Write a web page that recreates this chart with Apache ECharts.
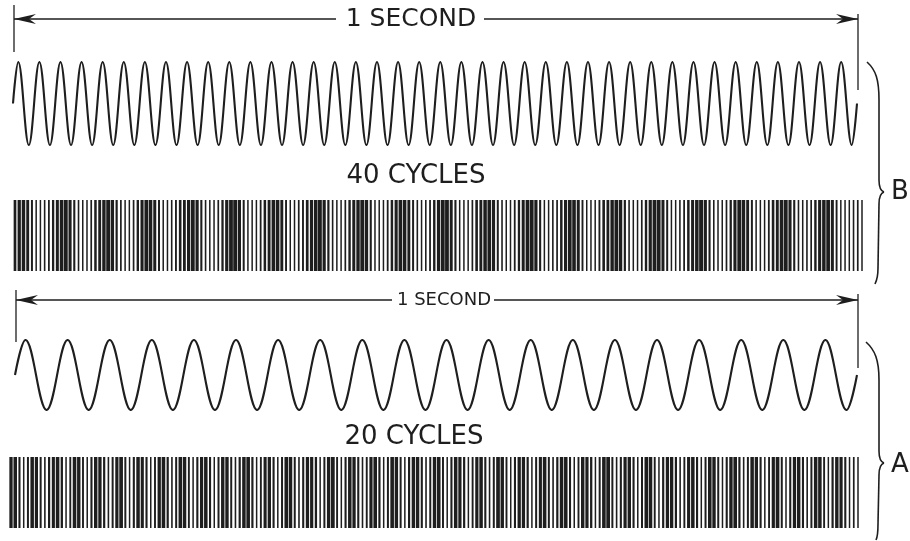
<!DOCTYPE html>
<html><head><meta charset="utf-8">
<script src="https://cdn.jsdelivr.net/npm/echarts@6/dist/echarts.min.js"></script>
<style>html,body{margin:0;padding:0;background:#fff}#c{width:910px;height:541px}</style>
</head><body><div id="c"></div>
<script>
// ---- data ----
const spanLabel = '1 SECOND';
const cycleLabels = ['40 CYCLES', '20 CYCLES'];
const groupLabels = ['B', 'A'];
// each trace over 1 second: start level, then every crest (+1) and trough (-1), then end level
const wave40 = [0,
1,-1,1,-1,1,-1,1,-1,1,-1,1,-1,1,-1,1,-1,1,-1,1,-1,
1,-1,1,-1,1,-1,1,-1,1,-1,1,-1,1,-1,1,-1,1,-1,1,-1,
1,-1,1,-1,1,-1,1,-1,1,-1,1,-1,1,-1,1,-1,1,-1,1,-1,
1,-1,1,-1,1,-1,1,-1,1,-1,1,-1,1,-1,1,-1,1,-1,1,-1,
0];
const wave20 = [0,
1,-1,1,-1,1,-1,1,-1,1,-1,1,-1,1,-1,1,-1,1,-1,1,-1,
1,-1,1,-1,1,-1,1,-1,1,-1,1,-1,1,-1,1,-1,1,-1,1,-1,
0];
// stroke widths (px) of the successive lines of each striped track
const barsB = [
2.2,2.8,3.0,2.4,1.5,1.0,1.0,1.1,1.3,1.8,
2.5,3.1,3.3,2.6,1.6,1.1,1.0,1.0,1.2,2.0,
2.4,2.9,3.4,2.8,1.7,1.2,1.0,1.0,1.2,1.9,
2.6,3.2,3.1,2.5,1.5,1.0,1.0,1.1,1.4,2.1,
2.3,2.8,3.2,2.7,1.6,1.1,1.0,1.0,1.2,1.8,
2.7,3.3,3.5,2.6,1.5,1.0,1.0,1.0,1.3,2.0,
2.4,3.0,3.1,2.4,1.4,1.0,1.0,1.2,1.4,2.2,
2.6,3.2,3.3,2.7,1.7,1.1,1.0,1.0,1.2,1.9,
2.5,2.9,3.4,2.8,1.6,1.0,1.0,1.0,1.3,2.0,
2.6,3.1,3.0,2.4,1.5,1.1,1.0,1.1,1.3,1.9,
2.7,3.4,3.3,2.5,1.6,1.0,1.0,1.0,1.2,2.1,
2.4,3.0,3.2,2.6,1.5,1.1,1.0,1.0,1.3,1.8,
2.5,3.1,3.4,2.7,1.6,1.0,1.0,1.1,1.2,2.0,
2.6,3.2,3.1,2.5,1.4,1.0,1.0,1.0,1.4,2.1,
2.3,2.9,3.3,2.8,1.7,1.1,1.0,1.0,1.2,1.9,
2.7,3.3,3.2,2.5,1.5,1.0,1.0,1.1,1.3,2.0,
2.5,3.0,3.4,2.7,1.6,1.1,1.0,1.0,1.2,1.8,
2.6,3.2,3.1,2.4,1.5,1.0,1.0,1.0,1.3,2.1,
2.4,3.1,3.3,2.6,1.6,1.1,1.0,1.1,1.2,1.9,
2.6,3.0,3.2,2.5,1.4,1.0,1.0,1.0,1.1,1.2,
1.0];
const barsA = [
2.8,3.0,1.6,1.0,1.5, 3.0,2.7,1.5,1.1,1.7, 2.6,3.1,1.8,1.0,1.4, 3.1,2.9,1.4,1.0,1.6,
2.9,2.8,1.7,1.1,1.5, 2.7,3.2,1.5,1.0,1.6, 3.0,2.6,1.6,1.0,1.4, 2.8,3.1,1.7,1.1,1.5,
3.2,2.8,1.4,1.0,1.6, 2.7,3.0,1.6,1.0,1.5, 2.9,2.9,1.5,1.1,1.7, 3.0,3.1,1.7,1.0,1.4,
2.6,2.8,1.6,1.0,1.5, 3.1,3.0,1.5,1.1,1.6, 2.8,2.7,1.8,1.0,1.5, 2.9,3.2,1.4,1.0,1.6,
3.0,2.8,1.6,1.1,1.4, 2.7,3.1,1.7,1.0,1.5, 3.1,2.9,1.5,1.0,1.7, 2.8,3.0,1.6,1.1,1.5,
2.9,3.1,1.5,1.0,1.6, 3.0,2.7,1.7,1.0,1.4, 2.7,3.0,1.6,1.1,1.5, 3.2,2.9,1.4,1.0,1.6,
2.8,2.8,1.7,1.0,1.5, 2.6,3.1,1.5,1.1,1.7, 3.0,3.0,1.6,1.0,1.4, 2.9,2.7,1.8,1.0,1.5,
3.1,3.2,1.5,1.1,1.6, 2.7,2.9,1.6,1.0,1.5, 3.0,3.1,1.4,1.0,1.7, 2.8,2.8,1.7,1.1,1.4,
2.6,3.0,1.6,1.0,1.5, 3.1,2.9,1.5,1.0,1.6, 2.9,3.1,1.7,1.1,1.5, 3.0,2.8,1.6,1.0,1.4,
2.7,3.2,1.5,1.0,1.6, 2.8,2.9,1.6,1.1,1.5, 3.0,3.0,1.4,1.0,1.7, 2.9,2.7,1.6,1.0,1.2,
1.0];

// ---- chart ----
const ink = '#1e1e1e';
const inkSpread = 0.5; // printing ink gain added to each stripe
const chart = echarts.init(document.getElementById('c'), null, {renderer: 'canvas'});
const hidden = {show: false};
// start/end at the span edges, crests and troughs at the centres of equal half-cycle slots
const waveTime = (i, n) => i === 0 ? 0 : i === n - 1 ? 1 : (i - 0.5) / (n - 2);
const waveSeries = (arr, xi) => ({
  type: 'line', xAxisIndex: xi, yAxisIndex: xi, smooth: 0.38, showSymbol: false, silent: true,
  lineStyle: {color: ink, width: 2.1}, data: arr.map((v, i) => [waveTime(i, arr.length), v])
});
const barSeries = (arr, xi, h) => ({
  type: 'scatter', xAxisIndex: xi, yAxisIndex: xi, symbol: 'rect', silent: true, clip: false,
  symbolSize: v => [v[2] + inkSpread, h], itemStyle: {color: ink, opacity: 1},
  data: arr.map((w, i) => [i, 0.5, w])
});
chart.setOption({
  backgroundColor: '#ffffff',
  animation: false,
  grid: [
    {left: 13, right: 53, top: 62, height: 83},
    {left: 15, right: 48, top: 200, height: 71},
    {left: 15, right: 53, top: 340, height: 70},
    {left: 11, right: 52, top: 457, height: 71}
  ],
  xAxis: [
    {gridIndex: 0, type: 'value', min: 0, max: 1, ...hidden},
    {gridIndex: 1, type: 'value', min: 0, max: barsB.length - 1, ...hidden},
    {gridIndex: 2, type: 'value', min: 0, max: 1, ...hidden},
    {gridIndex: 3, type: 'value', min: 0, max: barsA.length - 1, ...hidden}
  ],
  yAxis: [
    {gridIndex: 0, type: 'value', min: -1, max: 1, ...hidden},
    {gridIndex: 1, type: 'value', min: 0, max: 1, ...hidden},
    {gridIndex: 2, type: 'value', min: -1, max: 1, ...hidden},
    {gridIndex: 3, type: 'value', min: 0, max: 1, ...hidden}
  ],
  series: [
    waveSeries(wave40, 0),
    barSeries(barsB, 1, 71),
    waveSeries(wave20, 2),
    barSeries(barsA, 3, 71)
  ]
});

// ---- annotations: span arrows, labels, braces ----
const g = [];
const seg = (x1, y1, x2, y2, w) => g.push({type: 'line', silent: true, shape: {x1, y1, x2, y2}, style: {stroke: ink, lineWidth: w || 1.4}});
const head = (x, y, dir) => g.push({type: 'polygon', silent: true,
  shape: {points: [[x, y], [x + dir * 22, y - 5], [x + dir * 15, y], [x + dir * 22, y + 5]]},
  style: {fill: ink}});
const txt = (text, x, y, size) => g.push({type: 'text', silent: true,
  style: {text, x, y, font: size + 'px "DejaVu Sans"', fill: ink,
    textAlign: 'center', textVerticalAlign: 'middle', align: 'center', verticalAlign: 'middle'}});
const curve = (x1, y1, cpx1, cpy1, cpx2, cpy2, x2, y2) => g.push({type: 'bezierCurve', silent: true,
  shape: {x1, y1, cpx1, cpy1, cpx2, cpy2, x2, y2}, style: {stroke: ink, lineWidth: 1.6, fill: null}});

function brace(yTop, yMid, yBot, xTop, xBot) {
  const xs = 879, xp = 884;
  curve(xTop, yTop, xTop + 9, yTop + 8, xs, yTop + 18, xs, yTop + 38);
  seg(xs, yTop + 38, xs, yMid - 12, 1.6);
  curve(xs, yMid - 12, xs, yMid - 4, xp - 3, yMid - 1, xp, yMid);
  curve(xp, yMid, xp - 3, yMid + 1, xs, yMid + 4, xs, yMid + 12);
  seg(xs, yMid + 12, xs - 1, yBot - 16, 1.6);
  curve(xs - 1, yBot - 16, xs - 1, yBot - 8, xBot + 2, yBot - 4, xBot, yBot);
}

function spanArrow(xi, y, tickTopL, tickBotL, tickTopR, tickBotR, gapL, gapR, tx, size) {
  const x0 = chart.convertToPixel({xAxisIndex: xi}, 0) + 1;
  const x1 = chart.convertToPixel({xAxisIndex: xi}, 1) + 1;
  seg(x0, y, gapL, y); seg(gapR, y, x1, y);
  head(x0, y, 1); head(x1, y, -1);
  seg(x0, tickTopL, x0, tickBotL, 1.3); seg(x1, tickTopR, x1, tickBotR, 1.3);
  txt(spanLabel, tx, y, size);
}
spanArrow(0, 19, 5, 52, 14, 90, 336, 484, 411, 25);
spanArrow(2, 300, 290, 342, 294, 368, 392, 494, 444, 18);
txt(cycleLabels[0], 416, 176, 26);
txt(cycleLabels[1], 414, 437, 26);
brace(62, 192, 284, 867, 875);
brace(342, 463, 540, 866, 876);
txt(groupLabels[0], 900, 192, 26);
txt(groupLabels[1], 900, 465, 26);
chart.setOption({graphic: {elements: g}});
</script>
</body></html>
